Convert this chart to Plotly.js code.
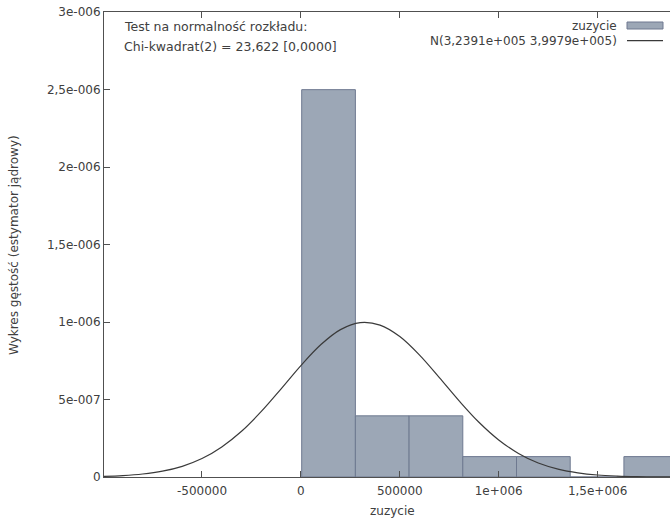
<!DOCTYPE html>
<html>
<head>
<meta charset="utf-8">
<script src="https://cdn.plot.ly/plotly-3.0.1.min.js"></script>
<style>html,body{margin:0;padding:0;overflow:hidden;background:#fff;}</style>
</head>
<body>
<div id="chart" style="width:670px;height:520px;"></div>
<script>
// Histogram bins (centres, common width) and density heights
const binCenters = [139750, 411250, 682750, 954250, 1225750, 1497250, 1768750];
const binWidth = 271500;
const density = [2.499e-6, 3.946e-7, 3.946e-7, 1.315e-7, 1.315e-7, 0, 1.315e-7];

// Normal curve N(323910, 399790) points
const curveX = [-1000000, -900000, -800000, -700000, -600000, -500000, -400000, -300000, -200000, -100000,
  0, 100000, 200000, 300000, 400000, 500000, 600000, 700000, 800000, 900000,
  1000000, 1100000, 1200000, 1300000, 1400000, 1500000, 1600000, 1700000, 1800000, 1900000];
const curveY = [4.1e-9, 9.2e-9, 1.92e-8, 3.76e-8, 6.9e-8, 1.19e-7, 1.94e-7, 2.95e-7, 4.23e-7, 5.69e-7,
  7.19e-7, 8.53e-7, 9.51e-7, 9.96e-7, 9.80e-7, 9.06e-7, 7.86e-7, 6.41e-7, 4.91e-7, 3.53e-7,
  2.39e-7, 1.52e-7, 9.0e-8, 5.1e-8, 2.7e-8, 1.3e-8, 6.1e-9, 2.7e-9, 1.1e-9, 4e-10];

const xTickVals = [-500000, 0, 500000, 1000000, 1500000];
const xTickText = ["-500000", "0", "500000", "1e+006", "1,5e+006"];
const yTickVals = [0, 5e-7, 1e-6, 1.5e-6, 2e-6, 2.5e-6, 3e-6];
const yTickText = ["0", "5e-007", "1e-006", "1,5e-006", "2e-006", "2,5e-006", "3e-006"];

const seriesName = "zuzycie";
const normalName = "N(3,2391e+005 3,9979e+005)";
const testLine1 = "Test na normalność rozkładu:";
const testLine2 = "Chi-kwadrat(2) = 23,622 [0,0000]";
const yTitle = "Wykres gęstość (estymator jądrowy)";
const xTitle = "zuzycie";

// layout geometry (pixels)
const W = 670, H = 520;
const mL = 104, mR = 0, mT = 12, mB = 43;
const plotW = W - mL - mR, plotH = H - mT - mB;
const px = x => (x - mL) / plotW;
const py = y => (H - mB - y) / plotH;

const textColor = "#404040";
const axisColor = "#505050";
const font = {family: "DejaVu Sans, Verdana, sans-serif", size: 12, color: textColor};
const noteFont = {family: "DejaVu Sans, Verdana, sans-serif", size: 12.5, color: textColor};

const traces = [
  {
    type: "bar", x: binCenters, y: density, width: binWidth,
    marker: {color: "#9ca7b6", line: {color: "#6e7990", width: 1}},
    name: seriesName, hoverinfo: "x+y"
  },
  {
    type: "scatter", mode: "lines", x: curveX, y: curveY,
    line: {color: "#3a3a3a", width: 1.2, shape: "spline"},
    name: normalName
  }
];

const layout = {
  width: W, height: H,
  margin: {l: mL, r: mR, t: mT, b: mB, pad: 0},
  paper_bgcolor: "#ffffff", plot_bgcolor: "#ffffff",
  showlegend: false,
  bargap: 0,
  font: font,
  xaxis: {
    range: [-995400, 1866000],
    tickmode: "array", tickvals: xTickVals, ticktext: xTickText,
    ticks: "inside", ticklen: 6, tickcolor: axisColor, tickwidth: 1,
    ticklabelstandoff: 3,
    showline: true, linecolor: axisColor, linewidth: 1, mirror: "ticks",
    showgrid: false, zeroline: false,
    tickfont: font
  },
  yaxis: {
    range: [0, 3e-6],
    tickmode: "array", tickvals: yTickVals, ticktext: yTickText,
    ticks: "inside", ticklen: 6, tickcolor: axisColor, tickwidth: 1,
    showline: true, linecolor: axisColor, linewidth: 1, mirror: false,
    showgrid: false, zeroline: false,
    tickfont: font
  },
  annotations: [
    {xref: "paper", yref: "paper", x: px(121.5), y: py(26.5), xanchor: "left", yanchor: "middle",
     text: testLine1, showarrow: false, font: noteFont},
    {xref: "paper", yref: "paper", x: px(121.5), y: py(46.5), xanchor: "left", yanchor: "middle",
     text: testLine2, showarrow: false, font: noteFont},
    {xref: "paper", yref: "paper", x: px(619), y: py(25.5), xanchor: "right", yanchor: "middle",
     text: seriesName, showarrow: false, font: font},
    {xref: "paper", yref: "paper", x: px(619), y: py(40.5), xanchor: "right", yanchor: "middle",
     text: normalName, showarrow: false, font: font},
    {xref: "paper", yref: "paper", x: px(392), y: py(511), xanchor: "center", yanchor: "middle",
     text: xTitle, showarrow: false, font: font},
    {xref: "paper", yref: "paper", x: px(14), y: py(245), xanchor: "center", yanchor: "middle",
     text: yTitle, textangle: -90, showarrow: false, font: font}
  ],
  shapes: [
    {type: "rect", xref: "paper", yref: "paper", x0: px(627), x1: px(663), y0: py(22), y1: py(29),
     fillcolor: "#9ca7b6", line: {color: "#6e7990", width: 1}},
    {type: "line", xref: "paper", yref: "paper", x0: px(627), x1: px(663), y0: py(40.7), y1: py(40.7),
     line: {color: "#3a3a3a", width: 1.2}}
  ]
};

Plotly.newPlot("chart", traces, layout, {staticPlot: true, displayModeBar: false});
</script>
</body>
</html>
